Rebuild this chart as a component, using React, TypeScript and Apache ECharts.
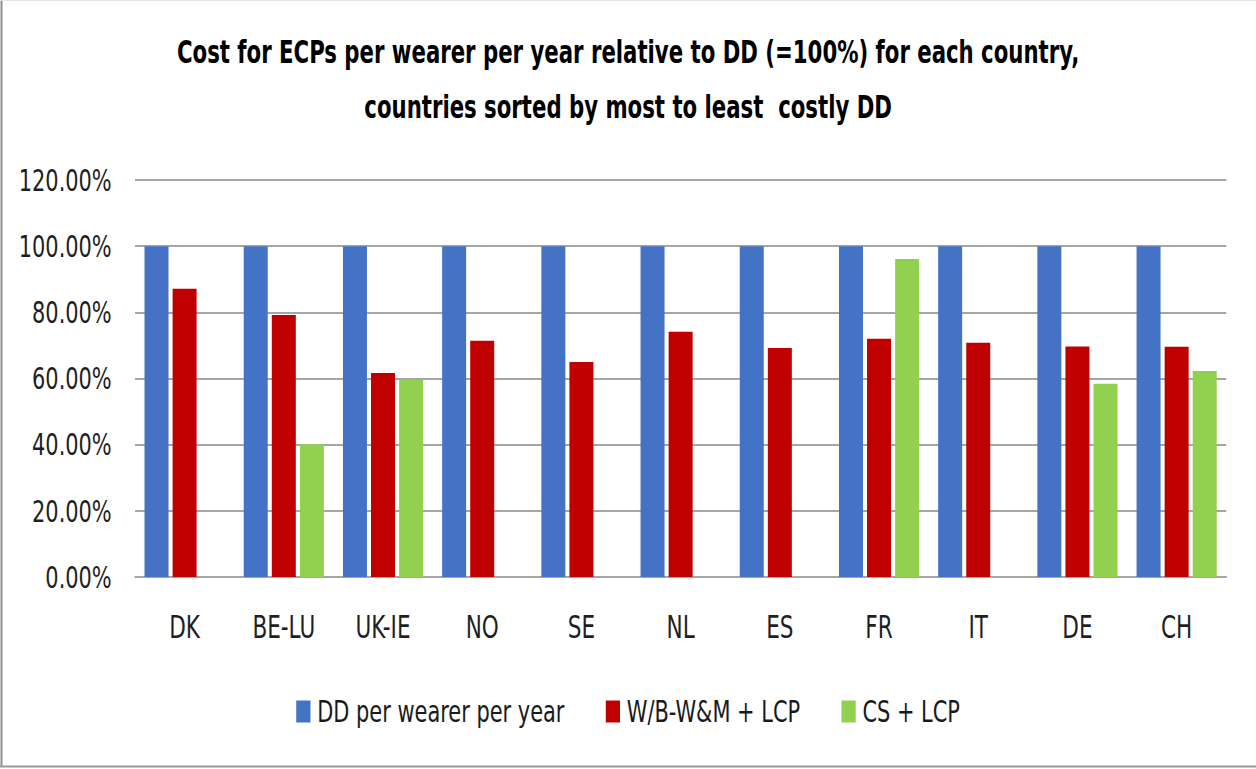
import React, { useEffect, useRef } from "react";
import * as echarts from "echarts";

const categories = ["DK", "BE-LU", "UK-IE", "NO", "SE", "NL", "ES", "FR", "IT", "DE", "CH"];
const ddValues = [100, 100, 100, 100, 100, 100, 100, 100, 100, 100, 100];
const wbValues = [87.1, 79.2, 61.7, 71.4, 65.0, 74.1, 69.2, 72.0, 70.8, 69.7, 69.6];
const csValues = [null, 40.1, 59.7, null, null, null, null, 96.1, null, 58.4, 62.3];
const seriesNames = ["DD per wearer per year", "W/B-W&M + LCP", "CS + LCP"];
const titleText = "Cost for ECPs per wearer per year relative to DD (=100%) for each country,\ncountries sorted by most to least  costly DD";

const FONT = '"DejaVu Sans Condensed", "DejaVu Sans", sans-serif';
// The reference text is tall and narrow (Calibri-like); the chart is drawn wider and squeezed horizontally.
const SX = 0.75;
const W = 1256;
const H = 769;
const IW = Math.round(W / SX);

export default function App() {
  const ref = useRef<HTMLDivElement>(null);
  useEffect(() => {
    if (!ref.current) return;
    const chart = echarts.init(ref.current, null, { renderer: "svg" });
    chart.setOption({
      animation: false,
      backgroundColor: "#ffffff",
      title: {
        text: titleText,
        left: "center",
        top: 20,
        textStyle: {
          fontFamily: FONT,
          fontWeight: "bold",
          fontSize: 31.5,
          lineHeight: 55,
          color: "#000000",
        },
      },
      legend: {
        top: 691,
        left: "center",
        itemWidth: 19,
        itemHeight: 22,
        itemGap: 55,
        icon: "rect",
        textStyle: { fontFamily: FONT, fontSize: 31, color: "#1a1a1a", padding: [0, 0, 0, 4] },
        data: seriesNames,
      },
      grid: { left: 180, right: 40, top: 180, bottom: 192, containLabel: false },
      xAxis: {
        type: "category",
        data: categories,
        axisLine: { show: true, lineStyle: { color: "#a6a6a6", width: 2 } },
        axisTick: { show: false },
        axisLabel: { fontFamily: FONT, fontSize: 32, color: "#1f1f1f", margin: 34 },
      },
      yAxis: {
        type: "value",
        min: 0,
        max: 120,
        interval: 20,
        axisLine: { show: false },
        axisTick: { show: false },
        splitLine: { lineStyle: { color: "#a6a6a6", width: 2 } },
        axisLabel: {
          fontFamily: FONT,
          fontSize: 31,
          color: "#1f1f1f",
          margin: 31,
          formatter: (v: number) => v.toFixed(2) + "%",
        },
      },
      series: [
        { name: seriesNames[0], type: "bar", data: ddValues, barWidth: 32, barGap: "17%", itemStyle: { color: "#4472c4" } },
        { name: seriesNames[1], type: "bar", data: wbValues, barWidth: 32, barGap: "17%", itemStyle: { color: "#c00000" } },
        { name: seriesNames[2], type: "bar", data: csValues, barWidth: 32, barGap: "17%", itemStyle: { color: "#92d050" } },
      ],
      graphic: [
        { type: "line", shape: { x1: 2, y1: 0, x2: 2, y2: 767 }, style: { stroke: "#8c8c8c", lineWidth: 2.6 } },
        { type: "line", shape: { x1: 0, y1: 766.5, x2: IW, y2: 766.5 }, style: { stroke: "#9a9a9a", lineWidth: 2 } },
        { type: "line", shape: { x1: 0, y1: 0.5, x2: IW, y2: 0.5 }, style: { stroke: "#e0e0e0", lineWidth: 1 } },
      ],
    });
    return () => chart.dispose();
  }, []);
  return (
    <div style={{ position: "absolute", left: 0, top: 0, width: W, height: H, overflow: "hidden", background: "#fff" }}>
      <div
        ref={ref}
        style={{ width: IW, height: H, transform: `scaleX(${SX})`, transformOrigin: "0 0" }}
      />
    </div>
  );
}
